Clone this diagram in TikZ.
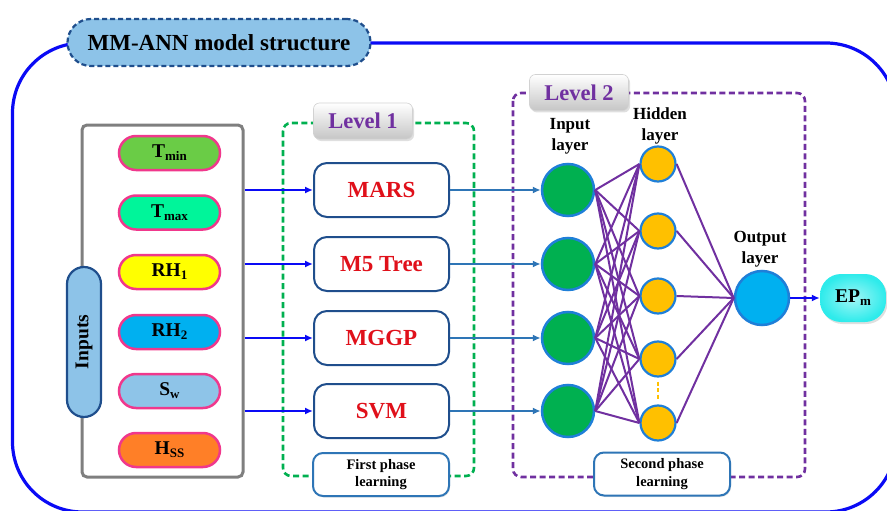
\documentclass[tikz,border=0pt]{standalone}
\usepackage{fontspec}
\setmainfont{Liberation Serif}
\usetikzlibrary{arrows.meta,shadows,calc}
\definecolor{frameblue}{HTML}{0A0AF5}
\definecolor{titlefill}{HTML}{8DC3E8}
\definecolor{darkb}{HTML}{1F4E8C}
\definecolor{pinkb}{HTML}{F0388C}
\definecolor{cTmin}{HTML}{6ACC46}
\definecolor{cTmax}{HTML}{00F59A}
\definecolor{cRHa}{HTML}{FFFF00}
\definecolor{cRHb}{HTML}{00B0F0}
\definecolor{cSw}{HTML}{8EC4E8}
\definecolor{cHss}{HTML}{FF7F27}
\definecolor{lgreen}{HTML}{00B050}
\definecolor{lpurple}{HTML}{7030A0}
\definecolor{steel}{HTML}{2E75B6}
\definecolor{redt}{HTML}{E0101A}
\definecolor{hidfill}{HTML}{FFC000}
\definecolor{outfill}{HTML}{00B0F0}
\definecolor{circb}{HTML}{1F7FD8}
\definecolor{epfill}{HTML}{2EEBEB}
\definecolor{grayb}{HTML}{7F7F7F}
\newcommand{\mysub}[1]{\raisebox{-0.35ex}{\fontsize{13}{13}\selectfont #1}}
\begin{document}
\begin{tikzpicture}[x=1pt,y=-1pt,
  titlebox/.style={fill=titlefill,draw=darkb,line width=2.2pt,dash pattern=on 5pt off 3pt,rounded corners=23.5pt,minimum width=303pt,minimum height=47pt,inner sep=0pt,font=\fontsize{23}{27}\selectfont\bfseries},
  inpill/.style={draw=pinkb,line width=2.5pt,rounded corners=17pt,minimum width=101pt,minimum height=34pt,inner sep=0pt,font=\fontsize{19.5}{22}\selectfont\bfseries},
  modelbox/.style={draw=darkb,fill=white,line width=2pt,rounded corners=13pt,minimum width=135pt,minimum height=54pt,inner sep=0pt,text=redt,font=\fontsize{23}{27}\selectfont\bfseries},
  phasebox/.style={draw=steel,fill=white,line width=2pt,rounded corners=10pt,minimum width=136pt,minimum height=43pt,inner sep=0pt,align=center,font=\fontsize{14.5}{17.5}\selectfont\bfseries},
  levelbox/.style={shading=axis,top color=white,bottom color=gray!45,draw=gray!35,line width=0.6pt,rounded corners=6pt,minimum width=99pt,minimum height=36pt,inner sep=0pt,text=lpurple,font=\fontsize{22.5}{26}\selectfont\bfseries,drop shadow={opacity=0.25,shadow xshift=1.5pt,shadow yshift=-2pt}},
  inarrow/.style={draw=frameblue,line width=2.8pt,-{Latex[length=8pt,width=7pt]}},
  midarrow/.style={draw=steel,line width=2.8pt,-{Latex[length=8pt,width=7pt]}},
  incirc/.style={circle,fill=lgreen,draw=circb,line width=2.5pt,minimum size=52pt,inner sep=0pt},
  hidcirc/.style={circle,fill=hidfill,draw=circb,line width=2.2pt,minimum size=35pt,inner sep=0pt},
  outcirc/.style={circle,fill=outfill,draw=circb,line width=2.5pt,minimum size=54pt,inner sep=0pt},
  purp/.style={draw=lpurple,line width=2pt},
  laylabel/.style={align=center,inner sep=0pt,font=\fontsize{17}{21}\selectfont\bfseries}
]
\useasboundingbox (0,0) rectangle (887,511);
\begin{scope}
\clip (0,0) rectangle (887,511);
\draw[frameblue,line width=3.2pt,rounded corners=70pt] (12.5,43) rectangle (896,512);
\end{scope}
\node[titlebox] (title) at (219,42.5) {MM-ANN model structure};

% inputs
\node[draw=grayb,line width=3pt,rounded corners=5pt,minimum width=161pt,minimum height=352pt,inner sep=0pt] (inbox) at (162.5,301) {};
\node[rotate=90,fill=titlefill,draw=darkb,line width=2.2pt,rounded corners=17pt,minimum width=150pt,minimum height=34pt,inner sep=0pt,font=\fontsize{19.5}{22}\selectfont\bfseries] (inputs) at (84,342) {Inputs};
\node[inpill,fill=cTmin] (tmin) at (169.5,153) {T\mysub{min}};
\node[inpill,fill=cTmax] (tmax) at (169.5,212.5) {T\mysub{max}};
\node[inpill,fill=cRHa] (rh1) at (169.5,272) {RH\mysub{1}};
\node[inpill,fill=cRHb] (rh2) at (169.5,332) {RH\mysub{2}};
\node[inpill,fill=cSw] (sw) at (169.5,391) {S\mysub{w}};
\node[inpill,fill=cHss] (hss) at (169.5,450) {H\mysub{SS}};

% level 1
\draw[lgreen,line width=2.6pt,dash pattern=on 6pt off 3.5pt,rounded corners=8pt] (283,123) rectangle (474,476);
\node[levelbox] (lev1) at (363,121) {Level 1};
\node[modelbox] (mars) at (381.5,190) {MARS};
\node[modelbox] (m5) at (381.5,264) {M5 Tree};
\node[modelbox] (mggp) at (381.5,338) {MGGP};
\node[modelbox] (svm) at (381.5,411) {SVM};
\node[phasebox,drop shadow={opacity=0.2,shadow xshift=1pt,shadow yshift=-1.5pt}] (ph1) at (381,474.5) {First phase\\learning};

\draw[inarrow] (inbox.east |- mars.west) -- (mars.west);
\draw[inarrow] (inbox.east |- m5.west) -- (m5.west);
\draw[inarrow] (inbox.east |- mggp.west) -- (mggp.west);
\draw[inarrow] (inbox.east |- svm.west) -- (svm.west);

% level 2
\draw[lpurple,line width=2.6pt,dash pattern=on 6pt off 3.5pt,rounded corners=8pt] (513,93) rectangle (805,477);
\node[levelbox] (lev2) at (579,92.5) {Level 2};
\node[phasebox,drop shadow={opacity=0.2,shadow xshift=1pt,shadow yshift=-1.5pt}] (ph2) at (662,474) {Second phase\\learning};

\node[incirc] (i1) at (568,190) {};
\node[incirc] (i2) at (568,264) {};
\node[incirc] (i3) at (568,338) {};
\node[incirc] (i4) at (568,411) {};
\node[hidcirc] (h1) at (658,164) {};
\node[hidcirc] (h2) at (658,231) {};
\node[hidcirc] (h3) at (658,296) {};
\node[hidcirc] (h4) at (658,359) {};
\node[hidcirc] (h5) at (658,423) {};
\node[outcirc] (o) at (762,298) {};

\foreach \i in {1,...,4}{
  \foreach \h in {1,...,5}{
    \draw[purp] (i\i.east) -- (h\h.west);
  }
}
\foreach \h in {1,...,5}{
  \draw[purp] (h\h.east) -- (o.west);
}
\draw[hidfill,line width=2pt,dash pattern=on 4pt off 2.5pt] ($(h4.south)+(0,4)$) -- ($(h5.north)+(0,-4)$);

\draw[midarrow] (mars.east) -- (i1.west);
\draw[midarrow] (m5.east) -- (i2.west);
\draw[midarrow] (mggp.east) -- (i3.west);
\draw[midarrow] (svm.east) -- (i4.west);

\node[laylabel] (lin) at (570,136) {Input\\layer};
\node[laylabel] (lhid) at (660,126) {Hidden\\layer};
\node[laylabel] (lout) at (760,249) {Output\\layer};

\node[shading=radial,inner color=epfill!45!white,outer color=epfill,draw=none,rounded corners=21pt,minimum width=66pt,minimum height=48pt,inner sep=0pt,font=\fontsize{19.5}{22}\selectfont\bfseries,drop shadow={opacity=0.25,shadow xshift=1.5pt,shadow yshift=-2pt}] (ep) at (853,298) {EP\mysub{m}};
\draw[inarrow] (o.east) -- (ep.west);
\end{tikzpicture}
\end{document}
